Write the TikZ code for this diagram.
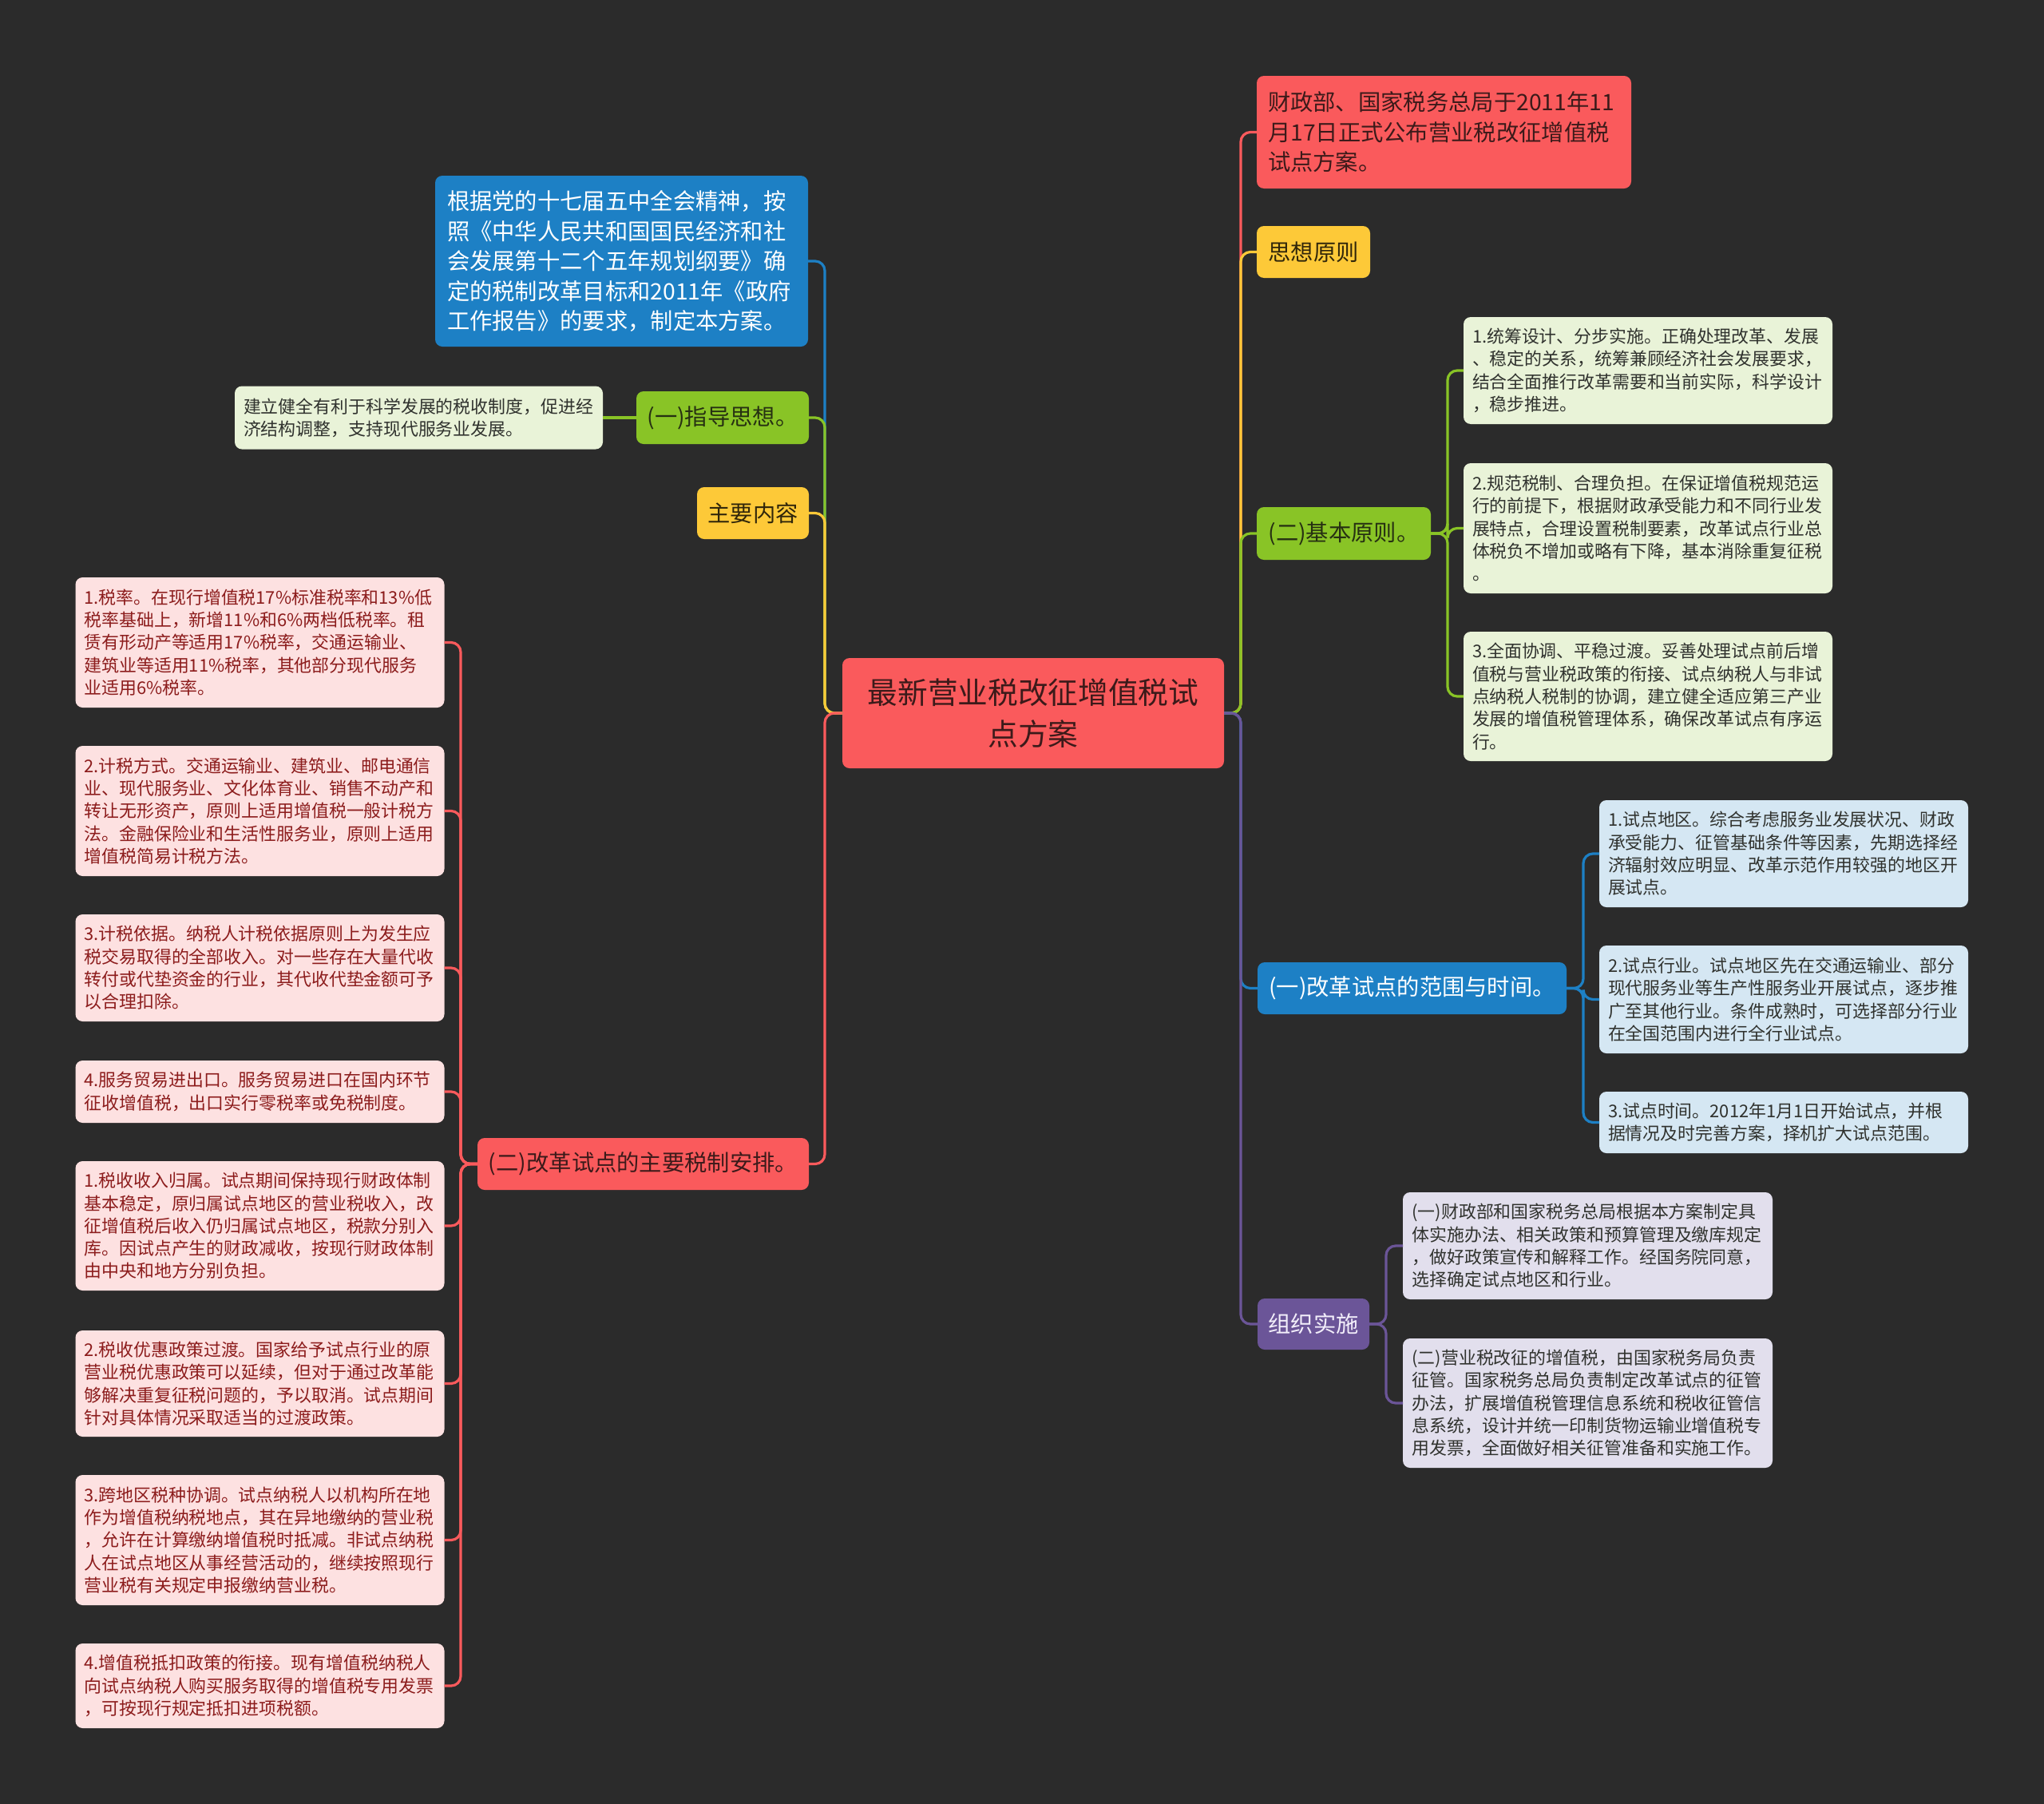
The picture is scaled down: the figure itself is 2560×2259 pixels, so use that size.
\documentclass[tikz,border=0pt]{standalone}
\usepackage{fontspec}
\setmainfont{Noto Sans CJK SC}
\definecolor{cBg}{RGB}{43,43,43}
\definecolor{cRoot}{RGB}{250,90,92}
\definecolor{cRootT}{RGB}{60,26,26}
\definecolor{cRed}{RGB}{250,90,92}
\definecolor{cRedT}{RGB}{60,26,26}
\definecolor{cBlue}{RGB}{29,128,197}
\definecolor{cGreen}{RGB}{137,196,38}
\definecolor{cGreenT}{RGB}{38,48,18}
\definecolor{cYellow}{RGB}{253,201,56}
\definecolor{cYellowT}{RGB}{48,38,10}
\definecolor{cPurple}{RGB}{107,85,152}
\definecolor{cPurpleT}{RGB}{242,238,250}
\definecolor{cLGreen}{RGB}{233,243,216}
\definecolor{cPink}{RGB}{253,225,225}
\definecolor{cPinkT}{RGB}{140,28,28}
\definecolor{cLBlue}{RGB}{213,231,243}
\definecolor{cLav}{RGB}{226,223,237}
\definecolor{cLeafT}{RGB}{48,50,46}
\tikzset{
  base/.style={rounded corners=9pt, inner ysep=0pt, outer sep=0pt},
  rootnode/.style={base, fill=cRoot, text=cRootT, font=\fontsize{37.7}{52}\selectfont, align=center},
  lone/.style={base, font=\fontsize{28.3}{37.5}\selectfont, align=center, inner xsep=0pt},
  lmulti/.style={base, font=\fontsize{28.3}{37.5}\selectfont, align=left, inner xsep=14pt},
  leaf/.style={base, font=\fontsize{21.9}{28.3}\selectfont, align=left, inner xsep=11pt, text width=440pt},
  pinkleaf/.style={leaf, fill=cPink, text=cPinkT},
  greenleaf/.style={leaf, fill=cLGreen, text=cLeafT},
  blueleaf/.style={leaf, fill=cLBlue, text=cLeafT},
  lavleaf/.style={leaf, fill=cLav, text=cLeafT},
  wh/.style 2 args={minimum width=#1pt, minimum height=#2pt},
  conn/.style={line width=3.2pt, rounded corners=12pt},
}
\begin{document}
\begin{tikzpicture}[x=1pt,y=-1pt]
\fill[cBg] (0,0) rectangle (2560,2259);
\useasboundingbox (0,0) rectangle (2560,2259);

% root
\node[rootnode, wh={478}{138}] (root) at (1294,893) {最新营业税改征增值税试\\点方案};

% left branches
\node[lmulti, fill=cBlue, text=white, wh={467}{214}, text width=437pt] (l1) at (778.5,327)
 {根据党的十七届五中全会精神，按\\照《中华人民共和国国民经济和社\\会发展第十二个五年规划纲要》确\\定的税制改革目标和2011年《政府\\工作报告》的要求，制定本方案。};
\node[lone, fill=cGreen, text=cGreenT, wh={216}{66}] (l2) at (905,523) {(一)指导思想。};
\node[greenleaf, wh={461}{79}, text width=439pt] (l2a) at (524.5,523)
 {建立健全有利于科学发展的税收制度，促进经\\济结构调整，支持现代服务业发展。};
\node[lone, fill=cYellow, text=cYellowT, wh={140}{65}] (l3) at (943,642.5) {主要内容};
\node[lone, fill=cRed, text=cRedT, wh={415}{65}] (l4) at (805.5,1457.5) {(二)改革试点的主要税制安排。};

\node[pinkleaf, wh={462}{163}] (p1) at (325.5,804.5)
 {1.税率。在现行增值税17\%标准税率和13\%低\\税率基础上，新增11\%和6\%两档低税率。租\\赁有形动产等适用17\%税率，交通运输业、\\建筑业等适用11\%税率，其他部分现代服务\\业适用6\%税率。};
\node[pinkleaf, wh={462}{163}] (p2) at (325.5,1015.5)
 {2.计税方式。交通运输业、建筑业、邮电通信\\业、现代服务业、文化体育业、销售不动产和\\转让无形资产，原则上适用增值税一般计税方\\法。金融保险业和生活性服务业，原则上适用\\增值税简易计税方法。};
\node[pinkleaf, wh={462}{134}] (p3) at (325.5,1212)
 {3.计税依据。纳税人计税依据原则上为发生应\\税交易取得的全部收入。对一些存在大量代收\\转付或代垫资金的行业，其代收代垫金额可予\\以合理扣除。};
\node[pinkleaf, wh={462}{78}] (p4) at (325.5,1367)
 {4.服务贸易进出口。服务贸易进口在国内环节\\征收增值税，出口实行零税率或免税制度。};
\node[pinkleaf, wh={462}{162}] (p5) at (325.5,1535)
 {1.税收收入归属。试点期间保持现行财政体制\\基本稳定，原归属试点地区的营业税收入，改\\征增值税后收入仍归属试点地区，税款分别入\\库。因试点产生的财政减收，按现行财政体制\\由中央和地方分别负担。};
\node[pinkleaf, wh={462}{133}] (p6) at (325.5,1732.5)
 {2.税收优惠政策过渡。国家给予试点行业的原\\营业税优惠政策可以延续，但对于通过改革能\\够解决重复征税问题的，予以取消。试点期间\\针对具体情况采取适当的过渡政策。};
\node[pinkleaf, wh={462}{163}] (p7) at (325.5,1928.5)
 {3.跨地区税种协调。试点纳税人以机构所在地\\作为增值税纳税地点，其在异地缴纳的营业税\\，允许在计算缴纳增值税时抵减。非试点纳税\\人在试点地区从事经营活动的，继续按照现行\\营业税有关规定申报缴纳营业税。};
\node[pinkleaf, wh={462}{106}] (p8) at (325.5,2111)
 {4.增值税抵扣政策的衔接。现有增值税纳税人\\向试点纳税人购买服务取得的增值税专用发票\\，可按现行规定抵扣进项税额。};

% right branches
\node[lmulti, fill=cRed, text=cRedT, wh={469}{141}, text width=441pt] (r1) at (1808.5,165.5)
 {财政部、国家税务总局于2011年11\\月17日正式公布营业税改征增值税\\试点方案。};
\node[lone, fill=cYellow, text=cYellowT, wh={142}{65}] (r2) at (1645,315.5) {思想原则};
\node[lone, fill=cGreen, text=cGreenT, wh={218}{66}] (r3) at (1683,668) {(二)基本原则。};
\node[greenleaf, wh={462}{134}] (g1) at (2064,464)
 {1.统筹设计、分步实施。正确处理改革、发展\\、稳定的关系，统筹兼顾经济社会发展要求，\\结合全面推行改革需要和当前实际，科学设计\\，稳步推进。};
\node[greenleaf, wh={462}{163}] (g2) at (2064,661.5)
 {2.规范税制、合理负担。在保证增值税规范运\\行的前提下，根据财政承受能力和不同行业发\\展特点，合理设置税制要素，改革试点行业总\\体税负不增加或略有下降，基本消除重复征税\\。};
\node[greenleaf, wh={462}{162}] (g3) at (2064,872)
 {3.全面协调、平稳过渡。妥善处理试点前后增\\值税与营业税政策的衔接、试点纳税人与非试\\点纳税人税制的协调，建立健全适应第三产业\\发展的增值税管理体系，确保改革试点有序运\\行。};
\node[lone, fill=cBlue, text=white, wh={387}{65}] (r4) at (1768.5,1237.5) {(一)改革试点的范围与时间。};
\node[blueleaf, wh={462}{134}] (b1) at (2234,1069)
 {1.试点地区。综合考虑服务业发展状况、财政\\承受能力、征管基础条件等因素，先期选择经\\济辐射效应明显、改革示范作用较强的地区开\\展试点。};
\node[blueleaf, wh={462}{135}] (b2) at (2234,1251.5)
 {2.试点行业。试点地区先在交通运输业、部分\\现代服务业等生产性服务业开展试点，逐步推\\广至其他行业。条件成熟时，可选择部分行业\\在全国范围内进行全行业试点。};
\node[blueleaf, wh={462}{77}] (b3) at (2234,1405.5)
 {3.试点时间。2012年1月1日开始试点，并根\\据情况及时完善方案，择机扩大试点范围。};
\node[lone, fill=cPurple, text=cPurpleT, wh={140}{64}] (r5) at (1645,1658) {组织实施};
\node[lavleaf, wh={463}{134}] (v1) at (1988.5,1560)
 {(一)财政部和国家税务总局根据本方案制定具\\体实施办法、相关政策和预算管理及缴库规定\\，做好政策宣传和解释工作。经国务院同意，\\选择确定试点地区和行业。};
\node[lavleaf, wh={463}{162}] (v2) at (1988.5,1757)
 {(二)营业税改征的增值税，由国家税务局负责\\征管。国家税务总局负责制定改革试点的征管\\办法，扩展增值税管理信息系统和税收征管信\\息系统，设计并统一印制货物运输业增值税专\\用发票，全面做好相关征管准备和实施工作。};

% connectors: root to left
\draw[conn, draw=cBlue]   (root.west) -- ++(-22,0) |- (l1.east);
\draw[conn, draw=cGreen]  (root.west) -- ++(-22,0) |- (l2.east);
\draw[conn, draw=cYellow] (root.west) -- ++(-22,0) |- (l3.east);
\draw[conn, draw=cRed]    (root.west) -- ++(-22,0) |- (l4.east);
\draw[conn, draw=cGreen]  (l2.west) -- (l2a.east);
\foreach \p in {p1,p2,p3,p4,p5,p6,p7,p8}
  \draw[conn, draw=cRed] (l4.west) -- ++(-21,0) |- (\p.east);

% connectors: root to right
\draw[conn, draw=cRed]    (root.east) -- ++(21,0) |- (r1.west);
\draw[conn, draw=cYellow] (root.east) -- ++(21,0) |- (r2.west);
\draw[conn, draw=cGreen]  (root.east) -- ++(21,0) |- (r3.west);
\draw[conn, draw=cBlue]   (root.east) -- ++(21,0) |- (r4.west);
\draw[conn, draw=cPurple] (root.east) -- ++(21,0) |- (r5.west);
\foreach \g in {g1,g2,g3}
  \draw[conn, draw=cGreen] (r3.east) -- ++(21,0) |- (\g.west);
\foreach \b in {b1,b2,b3}
  \draw[conn, draw=cBlue] (r4.east) -- ++(21,0) |- (\b.west);
\foreach \v in {v1,v2}
  \draw[conn, draw=cPurple] (r5.east) -- ++(21,0) |- (\v.west);
\end{tikzpicture}
\end{document}
